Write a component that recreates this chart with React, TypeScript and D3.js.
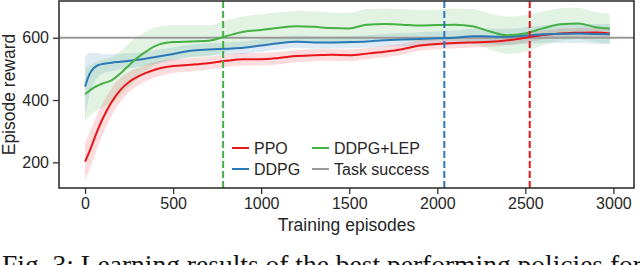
import { useEffect, useRef } from 'react'
import {
  area,
  axisBottom,
  axisLeft,
  curveMonotoneX,
  format,
  line,
  scaleLinear,
  select,
} from 'd3'

// training episodes where the curves were sampled
const episodes = [
  0, 25, 50, 75, 100, 150, 200, 250, 300, 350, 400, 500, 600, 700, 800, 900,
  1000, 1100, 1200, 1300, 1400, 1500, 1600, 1700, 1800, 1900, 2000, 2100, 2200,
  2300, 2400, 2500, 2600, 2700, 2800, 2900, 2980,
]

const ppoMean = [
  202, 235, 272, 308, 340, 393, 432, 458, 475, 488, 498, 509, 513, 518, 526, 531,
  531, 535, 541, 544, 545, 544, 549, 555, 563, 575, 580, 583, 585, 587, 592, 600,
  609, 614, 616, 617, 614,
]
const ppoStd = [
  62, 60, 57, 54, 50, 44, 38, 32, 28, 26, 25, 22, 21, 20, 20, 20, 20, 20, 20, 19,
  19, 19, 18, 18, 18, 17, 17, 17, 16, 16, 16, 16, 15, 15, 15, 15, 15,
]

const ddpgMean = [
  443, 483, 503, 512, 516, 520, 523, 526, 529, 533, 538, 548, 558, 562, 565, 568,
  575, 582, 587, 585, 585, 586, 588, 592, 594, 596, 598, 600, 605, 604, 603, 607,
  611, 613, 614, 612, 611,
]
const ddpgStd = [
  95, 68, 48, 38, 32, 27, 25, 24, 23, 22, 22, 21, 20, 20, 20, 20, 20, 20, 20, 20,
  20, 20, 20, 21, 21, 22, 22, 23, 24, 25, 26, 27, 28, 30, 31, 32, 33,
]

const lepMean = [
  419, 430, 440, 447, 453, 463, 485, 512, 537, 557, 574, 586, 588, 590, 605, 619,
  625, 632, 637, 635, 631, 630, 642, 644, 642, 639, 641, 642, 637, 620, 608, 614,
  630, 643, 646, 634, 630,
]
const lepStd = [
  85, 82, 80, 78, 76, 74, 72, 70, 68, 64, 60, 55, 52, 50, 50, 50, 50, 50, 50, 50,
  50, 50, 50, 50, 50, 50, 50, 52, 55, 58, 60, 58, 55, 52, 50, 48, 48,
]

// episodes at which each method first reaches task success
const successEpisodes = { lep: 784, ddpg: 2040, ppo: 2525 }
const taskSuccess = 600

const xTicks = [0, 500, 1000, 1500, 2000, 2500, 3000]
const yTicks = [200, 400, 600]

const colors = {
  ppo: '#e8151b',
  ddpg: '#2b78b8',
  lep: '#45b043',
  success: '#999999',
}

const width = 640
const height = 265
const margin = { top: 1, right: 6, bottom: 77, left: 59 }
const innerWidth = width - margin.left - margin.right
const innerHeight = height - margin.top - margin.bottom
const font = '"Liberation Sans", Arial, Helvetica, sans-serif'

type Series = {
  key: 'ppo' | 'ddpg' | 'lep'
  label: string
  mean: number[]
  std: number[]
}

const series: Series[] = [
  { key: 'ppo', label: 'PPO', mean: ppoMean, std: ppoStd },
  { key: 'ddpg', label: 'DDPG', mean: ddpgMean, std: ddpgStd },
  { key: 'lep', label: 'DDPG+LEP', mean: lepMean, std: lepStd },
]

export default function App() {
  const xAxisRef = useRef<SVGGElement>(null)
  const yAxisRef = useRef<SVGGElement>(null)

  const xScale = scaleLinear().domain([-148, 3117]).range([0, innerWidth])
  const yScale = scaleLinear().domain([117.5, 718]).range([innerHeight, 0])

  const meanLine = line<number>()
    .x((_, i) => xScale(episodes[i]))
    .y((d) => yScale(d))
    .curve(curveMonotoneX)

  const band = (s: Series) =>
    area<number>()
      .x((_, i) => xScale(episodes[i]))
      .y0((d, i) => yScale(d - s.std[i]))
      .y1((d, i) => yScale(d + s.std[i]))
      .curve(curveMonotoneX)(s.mean) ?? ''

  useEffect(() => {
    if (!xAxisRef.current || !yAxisRef.current) return

    const styleAxis = (g: any) => {
      g.select('.domain').remove()
      g.selectAll('.tick line').attr('stroke', '#333').attr('stroke-width', 1.3)
      g.selectAll('.tick text')
        .attr('fill', '#262626')
        .style('font-family', font)
        .style('font-size', '16px')
    }

    select(xAxisRef.current)
      .call(
        axisBottom(xScale)
          .tickValues(xTicks)
          .tickFormat(format('d'))
          .tickSize(6)
          .tickPadding(4),
      )
      .call(styleAxis)
    select(yAxisRef.current)
      .call(
        axisLeft(yScale)
          .tickValues(yTicks)
          .tickFormat(format('d'))
          .tickSize(6)
          .tickPadding(4),
      )
      .call(styleAxis)
  }, [xScale, yScale])

  const legendRows = [
    { label: 'PPO', color: colors.ppo, col: 0, row: 0 },
    { label: 'DDPG', color: colors.ddpg, col: 0, row: 1 },
    { label: 'DDPG+LEP', color: colors.lep, col: 1, row: 0 },
    { label: 'Task success', color: colors.success, col: 1, row: 1 },
  ]

  return (
    <svg
      width={width}
      height={height}
      viewBox={`0 0 ${width} ${height}`}
      style={{ position: 'absolute', left: 0, top: 0, background: '#fff' }}
    >
      <defs>
        <clipPath id="plot-clip">
          <rect width={innerWidth} height={innerHeight} />
        </clipPath>
      </defs>
      <g transform={`translate(${margin.left}, ${margin.top})`}>
        <g clipPath="url(#plot-clip)">
          {series.map((s) => (
            <path key={`band-${s.key}`} d={band(s)} fill={colors[s.key]} fillOpacity={0.15} />
          ))}

          <line
            x1={0}
            x2={innerWidth}
            y1={yScale(taskSuccess)}
            y2={yScale(taskSuccess)}
            stroke={colors.success}
            strokeWidth={2.2}
          />

          {series.map((s) => (
            <path
              key={`line-${s.key}`}
              d={meanLine(s.mean) ?? ''}
              fill="none"
              stroke={colors[s.key]}
              strokeWidth={2}
            />
          ))}

          {(['lep', 'ddpg', 'ppo'] as const).map((k) => (
            <line
              key={`success-${k}`}
              x1={xScale(successEpisodes[k])}
              x2={xScale(successEpisodes[k])}
              y1={0}
              y2={innerHeight}
              stroke={colors[k]}
              strokeWidth={2}
              strokeDasharray="7,3"
            />
          ))}
        </g>

        <g transform={`translate(${232 - margin.left}, ${148 - margin.top})`}>
          {legendRows.map((r) => (
            <g key={r.label} transform={`translate(${r.col * 80}, ${r.row * 21})`}>
              <line x1={0} x2={17} y1={0} y2={0} stroke={r.color} strokeWidth={2} />
              <text
                x={22}
                y={5.6}
                fill="#262626"
                style={{ fontFamily: font, fontSize: 16 }}
              >
                {r.label}
              </text>
            </g>
          ))}
        </g>

        <rect
          x={0}
          y={0}
          width={innerWidth}
          height={innerHeight}
          fill="none"
          stroke="#333"
          strokeWidth={1.6}
        />
        <g ref={xAxisRef} transform={`translate(0, ${innerHeight})`} />
        <g ref={yAxisRef} />

        <text
          x={innerWidth / 2}
          y={231 - margin.top}
          textAnchor="middle"
          fill="#262626"
          style={{ fontFamily: font, fontSize: 17.5 }}
        >
          Training episodes
        </text>
        <text
          transform={`translate(${14.5 - margin.left}, ${innerHeight / 2}) rotate(-90)`}
          textAnchor="middle"
          fill="#262626"
          style={{ fontFamily: font, fontSize: 17.5 }}
        >
          Episode reward
        </text>
      </g>

      <text
        x={2}
        y={273.5}
        fill="#111"
        style={{ fontFamily: '"Liberation Serif", "Times New Roman", serif', fontSize: 27.5 }}
      >
        Fig. 3: Learning results of the best performing policies for
      </text>
    </svg>
  )
}
